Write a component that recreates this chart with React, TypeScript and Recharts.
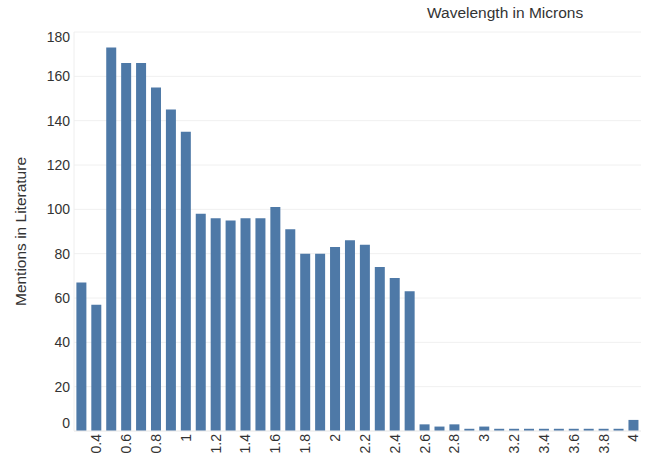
import { BarChart, Bar, XAxis, YAxis, CartesianGrid } from 'recharts'

// wavelength bins, microns
const wavelengths = [
  0.3, 0.4, 0.5, 0.6, 0.7, 0.8, 0.9, 1.0, 1.1, 1.2, 1.3, 1.4, 1.5, 1.6, 1.7, 1.8, 1.9, 2.0, 2.1,
  2.2, 2.3, 2.4, 2.5, 2.6, 2.7, 2.8, 2.9, 3.0, 3.1, 3.2, 3.3, 3.4, 3.5, 3.6, 3.7, 3.8, 3.9, 4.0,
]
const mentions = [
  67, 57, 173, 166, 166, 155, 145, 135, 98, 96, 95, 96, 96, 101, 91, 80, 80, 83, 86,
  84, 74, 69, 63, 3, 2, 3, 1, 2, 1, 1, 1, 1, 1, 1, 1, 1, 1, 5,
]
const xTickLabels = [
  '0.4', '0.6', '0.8', '1', '1.2', '1.4', '1.6', '1.8', '2', '2.2', '2.4', '2.6', '2.8', '3',
  '3.2', '3.4', '3.6', '3.8', '4',
]
const yTicks = [0, 20, 40, 60, 80, 100, 120, 140, 160, 180]

const data = wavelengths.map((w, i) => ({ name: String(w), value: mentions[i] }))

const FONT = '"Liberation Sans", Arial, sans-serif'
const TEXT = '#333'

function XTick({ x, y, payload }: any) {
  const label = String(Number(payload.value))
  if (!xTickLabels.includes(label)) return null
  return (
    <text
      x={x}
      y={y}
      transform={`rotate(-90, ${x}, ${y})`}
      textAnchor='end'
      dy='0.35em'
      fontSize={14}
      fontFamily={FONT}
      fill={TEXT}
    >
      {label}
    </text>
  )
}

// end labels are nudged inside the plot, like the original
function YTick({ x, y, payload }: any) {
  const v = payload.value
  const shift = v === yTicks[yTicks.length - 1] ? 5 : v === yTicks[0] ? -8 : 0
  return (
    <text
      x={x}
      y={y + shift}
      textAnchor='end'
      dy='0.35em'
      fontSize={14}
      fontFamily={FONT}
      fill={TEXT}
    >
      {v}
    </text>
  )
}

export default function App() {
  return (
    <div style={{ position: 'absolute', left: 0, top: 0, width: 646, height: 459, background: '#fff' }}>
      <div
        style={{
          position: 'absolute',
          left: 427,
          top: 4,
          fontFamily: FONT,
          fontSize: 15.5,
          color: TEXT,
          whiteSpace: 'nowrap',
        }}
      >
        Wavelength in Microns
      </div>
      <BarChart
        width={646}
        height={459}
        data={data}
        margin={{ top: 32, right: 5, bottom: 0, left: 0 }}
        barCategoryGap='16%'
      >
        <CartesianGrid horizontal vertical={false} stroke='#f0f0f0' />
        <XAxis
          dataKey='name'
          interval={0}
          height={28}
          tick={<XTick />}
          tickLine={false}
          tickSize={0}
          tickMargin={3}
          axisLine={{ stroke: '#eee' }}
        />
        <YAxis
          width={74}
          domain={[0, 180]}
          ticks={yTicks}
          interval={0}
          tickLine={false}
          tickSize={0}
          tickMargin={4}
          axisLine={{ stroke: '#eee' }}
          tick={<YTick />}
          label={{
            value: 'Mentions in Literature',
            angle: -90,
            position: 'insideLeft',
            dx: 15,
            style: { fontSize: 15.5, fontFamily: FONT, fill: TEXT, textAnchor: 'middle' },
          }}
        />
        <Bar dataKey='value' fill='#4e79a7' isAnimationActive={false} />
      </BarChart>
    </div>
  )
}
